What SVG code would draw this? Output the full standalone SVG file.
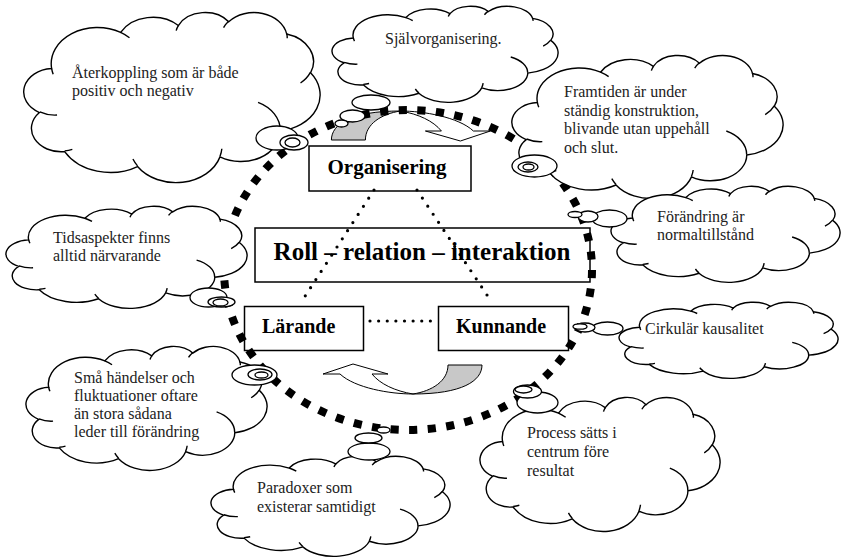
<svg xmlns="http://www.w3.org/2000/svg" xmlns:xlink="http://www.w3.org/1999/xlink" width="842" height="560" viewBox="0 0 842 560">
<style>
  .cl { fill: #fff; stroke: #000; stroke-width: 1.4; vector-effect: non-scaling-stroke; }
  .ci { fill: none; stroke: #000; stroke-width: 1.4; vector-effect: non-scaling-stroke; }
  .bub { fill: #fff; stroke: #000; stroke-width: 1.3; }
  .ct { font-family: "Liberation Serif", "Times New Roman", serif; font-size: 16px; fill: #222; }
  .box { fill: #fff; stroke: #000; stroke-width: 1.5; }
  .bt { font-family: "Liberation Serif", "Times New Roman", serif; font-weight: bold; fill: #000; }
  .dot { fill: none; stroke: #000; stroke-width: 3.2; stroke-linecap: round; stroke-dasharray: 0 1; }
  .arw { stroke: #000; stroke-width: 1; stroke-linejoin: miter; }
</style>
<defs>
  <g id="cloud">
    <path class="cl" d="M9.03 33.26 A15.63 21.27 0 0 1 32.42 12.04 A12.34 16.82 0 0 1 51.98 7.95 A10.10 13.76 0 0 1 69.06 5.75 A11.24 15.27 0 0 1 88.70 12.91 A12.35 16.84 0 0 1 96.80 35.79 A15.68 21.34 0 0 1 86.58 69.91 A13.39 18.21 0 0 1 66.10 85.22 A15.63 21.33 0 0 1 38.15 90.90 A17.87 24.41 0 0 1 13.44 82.12 A10.09 13.70 0 0 1 4.90 59.15 A10.06 13.76 0 0 1 9.03 33.26 Z"/>
    <path class="ci" d="M10.86 60.59 A10.06 13.76 0 0 1 5.00 58.75 M16.04 80.78 A10.09 13.70 0 0 1 13.47 81.67 M38.14 90.49 A15.63 21.33 0 0 1 36.59 86.45 M66.73 80.44 A15.63 21.33 0 0 1 66.11 84.86 M79.00 53.13 A13.39 18.21 0 0 1 86.53 69.65 M96.75 35.54 A12.35 16.84 0 0 1 93.40 41.74 M88.71 12.56 A11.24 15.27 0 0 1 88.89 15.49 M67.31 9.15 A11.24 15.27 0 0 1 69.03 5.42 M51.25 10.93 A10.10 13.76 0 0 1 52.08 7.71 M32.41 12.02 A15.63 21.27 0 0 1 35.42 15.14 M9.55 36.55 A15.63 21.27 0 0 1 9.03 33.27"/>
  </g>
  <g id="curvedArrow">
    <path class="arw" fill="#c8c8c8" d="M448 365 L482 365 C482 381 462 394 413 394 C432 391 448 381 448 365 Z"/>
    <path class="arw" fill="#fff" d="M413 394 C390 394 355 388 340 374 L323 374 L353 364 L388 374 L372 374 C380 384 395 391 413 394 Z"/>
  </g>
</defs>

<g id="arrows">
  <use xlink:href="#curvedArrow" href="#curvedArrow"/>
  <use xlink:href="#curvedArrow" href="#curvedArrow" transform="rotate(180 406.7 252.5)"/>
</g>

<g id="node-roll">
  <rect class="box" x="255" y="228" width="335" height="54"/>
  <text class="bt" x="422" y="260" font-size="25" text-anchor="middle">Roll – relation – interaktion</text>
</g>
<g id="node-organisering">
  <rect class="box" x="309" y="146" width="162" height="45"/>
  <text class="bt" x="387" y="174" font-size="21" text-anchor="middle">Organisering</text>
</g>
<g id="node-larande">
  <rect class="box" x="244.5" y="306.5" width="119" height="44"/>
  <text class="bt" x="262" y="333" font-size="20">Lärande</text>
</g>
<g id="node-kunnande">
  <rect class="box" x="438.5" y="306.5" width="130" height="44"/>
  <text class="bt" x="456" y="333" font-size="20">Kunnande</text>
</g>

<g id="connectors">
  <path class="dot" d="M374 190 L300 304" pathLength="14"/>
  <path class="dot" d="M417 190 L487 295" pathLength="13"/>
  <path class="dot" d="M370 321 L439 321" pathLength="8"/>
</g>

<g id="cycle">
  <ellipse cx="408" cy="270" rx="184" ry="160" fill="none" stroke="#000" stroke-width="8" pathLength="58" stroke-dasharray="0.44 0.56"/>
</g>

<g id="cloud-aterkoppling">
  <use xlink:href="#cloud" href="#cloud" transform="translate(25 12) scale(2.95 1.70)"/>
  <ellipse class="bub" cx="277" cy="138" rx="21" ry="12"/>
  <ellipse class="bub" cx="294" cy="142.5" rx="14" ry="7.5"/>
  <ellipse class="bub" cx="292.5" cy="142.5" rx="7.5" ry="4.5"/>
  <text class="ct" x="72" y="78">Återkoppling som är både</text>
  <text class="ct" x="72" y="96">positiv och negativ</text>
</g>

<g id="cloud-sjalvorganisering">
  <use xlink:href="#cloud" href="#cloud" transform="translate(333 6) scale(2.25 0.96)"/>
  <ellipse class="bub" cx="371" cy="102.5" rx="19" ry="7.5"/>
  <ellipse class="bub" cx="352.5" cy="116" rx="12.5" ry="6"/>
  <ellipse class="bub" cx="341.5" cy="123.5" rx="6.5" ry="3.5"/>
  <text class="ct" x="385" y="44">Självorganisering.</text>
</g>

<g id="cloud-framtiden">
  <use xlink:href="#cloud" href="#cloud" transform="translate(513 55) scale(2.70 1.43)"/>
  <ellipse class="bub" cx="534.5" cy="166" rx="22.5" ry="11"/>
  <ellipse class="bub" cx="528" cy="167" rx="10" ry="5"/>
  <ellipse class="bub" cx="528.5" cy="167" rx="5.5" ry="3"/>
  <text class="ct" x="564" y="97">Framtiden är under</text>
  <text class="ct" x="564" y="116">ständig konstruktion,</text>
  <text class="ct" x="564" y="134">blivande utan uppehåll</text>
  <text class="ct" x="564" y="153">och slut.</text>
</g>

<g id="cloud-forandring">
  <use xlink:href="#cloud" href="#cloud" transform="translate(612 186) scale(2.28 0.96)"/>
  <ellipse class="bub" cx="609.5" cy="218.5" rx="17.5" ry="8.5"/>
  <ellipse class="bub" cx="588" cy="216.5" rx="10" ry="5.5"/>
  <ellipse class="bub" cx="575" cy="214.5" rx="7" ry="3"/>
  <text class="ct" x="657" y="222">Förändring är</text>
  <text class="ct" x="657" y="240">normaltillstånd</text>
</g>

<g id="cloud-cirkular">
  <use xlink:href="#cloud" href="#cloud" transform="translate(620 302) scale(2.18 0.76)"/>
  <ellipse class="bub" cx="607.5" cy="328.5" rx="15.5" ry="6.5"/>
  <ellipse class="bub" cx="585" cy="327.5" rx="10" ry="4.5"/>
  <ellipse class="bub" cx="580" cy="326.5" rx="7" ry="2.7"/>
  <text class="ct" x="645" y="334">Cirkulär kausalitet</text>
</g>

<g id="cloud-process">
  <use xlink:href="#cloud" href="#cloud" transform="translate(481 397) scale(2.39 1.34)"/>
  <ellipse class="bub" cx="537.5" cy="402.5" rx="20.5" ry="10.5"/>
  <ellipse class="bub" cx="527.5" cy="391.5" rx="14" ry="6.5"/>
  <ellipse class="bub" cx="523.5" cy="389.5" rx="8.5" ry="3.5"/>
  <text class="ct" x="527" y="438">Process sätts i</text>
  <text class="ct" x="527" y="457">centrum före</text>
  <text class="ct" x="527" y="476">resultat</text>
</g>

<g id="cloud-paradoxer">
  <use xlink:href="#cloud" href="#cloud" transform="translate(212 456) scale(2.38 1.00)"/>
  <ellipse class="bub" cx="369" cy="451.5" rx="21" ry="8.5"/>
  <ellipse class="bub" cx="368.5" cy="438" rx="13.5" ry="5"/>
  <ellipse class="bub" cx="383.5" cy="430" rx="6.5" ry="3"/>
  <text class="ct" x="257" y="493">Paradoxer som</text>
  <text class="ct" x="257" y="512">existerar samtidigt</text>
</g>

<g id="cloud-sma">
  <use xlink:href="#cloud" href="#cloud" transform="translate(27 346) scale(2.40 1.24)"/>
  <ellipse class="bub" cx="254.5" cy="375" rx="22.5" ry="10"/>
  <ellipse class="bub" cx="260" cy="374.5" rx="12" ry="5.5"/>
  <ellipse class="bub" cx="261.5" cy="375" rx="6.5" ry="3"/>
  <text class="ct" x="74" y="383">Små händelser och</text>
  <text class="ct" x="74" y="401">fluktuationer oftare</text>
  <text class="ct" x="74" y="419">än stora sådana</text>
  <text class="ct" x="74" y="437">leder till förändring</text>
</g>

<g id="cloud-tidsaspekter">
  <use xlink:href="#cloud" href="#cloud" transform="translate(7 206) scale(2.40 1.02)"/>
  <ellipse class="bub" cx="208.5" cy="297.5" rx="18.5" ry="9.5"/>
  <ellipse class="bub" cx="221.5" cy="302" rx="13.5" ry="5"/>
  <ellipse class="bub" cx="220.5" cy="302.5" rx="7.5" ry="3.5"/>
  <text class="ct" x="53" y="243">Tidsaspekter finns</text>
  <text class="ct" x="53" y="261">alltid närvarande</text>
</g>
</svg>
